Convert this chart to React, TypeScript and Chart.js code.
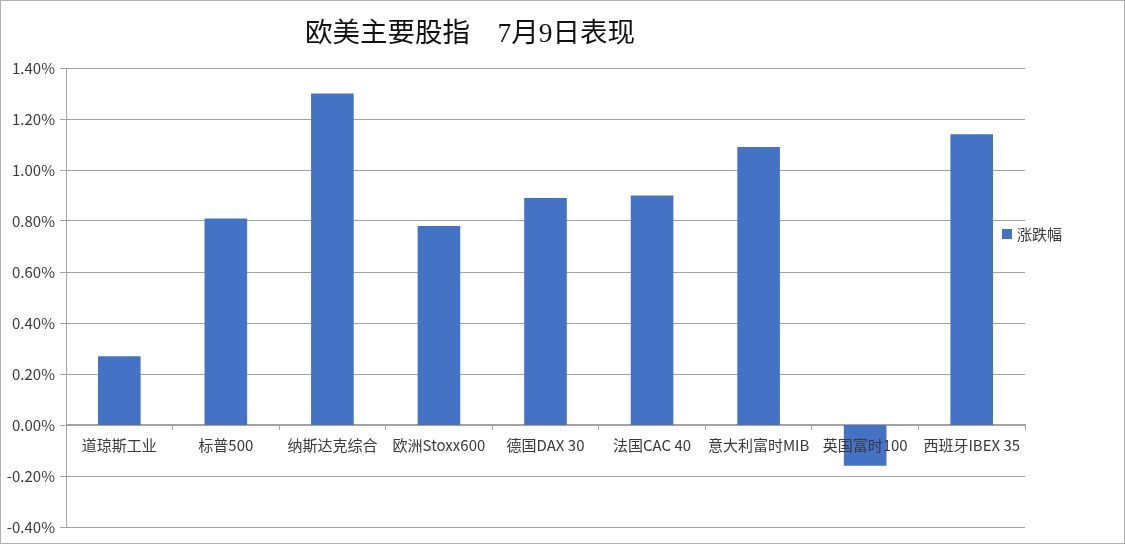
import React, { useEffect, useRef } from "react";
import { Chart, registerables } from "chart.js";

Chart.register(...registerables);

const titleText = "欧美主要股指　7月9日表现";
const seriesLabel = "涨跌幅";
const categories = [
  "道琼斯工业",
  "标普500",
  "纳斯达克综合",
  "欧洲Stoxx600",
  "德国DAX 30",
  "法国CAC 40",
  "意大利富时MIB",
  "英国富时100",
  "西班牙IBEX 35",
];
const changePct = [0.27, 0.81, 1.3, 0.78, 0.89, 0.9, 1.09, -0.16, 1.14];
const yMin = -0.4;
const yMax = 1.4;
const yStep = 0.2;

const BAR_COLOR = "#4472C4";
const GRID_COLOR = "#a3a3a3";
const TEXT_COLOR = "#3a3a3a";
const LABEL_FONT = "'Noto Sans CJK SC', 'Noto Sans', sans-serif";

const overlayPlugin = {
  id: "overlay",
  afterDraw(chart: any) {
    const ctx = chart.ctx;
    ctx.save();
    // title
    ctx.fillStyle = "#111";
    ctx.font = "27.5px 'Liberation Serif', 'Noto Sans CJK SC', serif";
    ctx.textAlign = "center";
    ctx.textBaseline = "middle";
    ctx.fillText(titleText, 470, 35);
    // legend
    const lx = chart.chartArea.right - 23;
    const ly = 234;
    ctx.fillStyle = BAR_COLOR;
    ctx.fillRect(lx, ly - 5, 10, 10);
    ctx.fillStyle = TEXT_COLOR;
    ctx.font = "15px " + LABEL_FONT;
    ctx.textAlign = "left";
    ctx.fillText(chart.data.datasets[0].label, lx + 15, ly);
    ctx.restore();
  },
};

export default function App() {
  const ref = useRef<HTMLCanvasElement | null>(null);
  useEffect(() => {
    document.body.style.margin = "0";
    const chart = new Chart(ref.current as HTMLCanvasElement, {
      type: "bar",
      data: {
        labels: categories,
        datasets: [
          {
            label: seriesLabel,
            data: changePct,
            backgroundColor: BAR_COLOR,
            barPercentage: 0.4,
            categoryPercentage: 1,
          },
        ],
      },
      options: {
        animation: false,
        responsive: true,
        maintainAspectRatio: false,
        layout: { padding: { left: 0, right: 100, top: 68, bottom: 18 } },
        plugins: {
          legend: { display: false },
          title: { display: false },
          tooltip: { enabled: false },
        },
        scales: {
          x: {
            position: { y: 0 } as any,
            offset: true,
            grid: {
              offset: true,
              drawOnChartArea: false,
              drawTicks: true,
              tickLength: 5,
              color: GRID_COLOR,
            },
            border: { display: true, color: GRID_COLOR },
            ticks: {
              z: 1,
              color: TEXT_COLOR,
              font: { family: LABEL_FONT, size: 15 },
              padding: 6,
              maxRotation: 0,
              autoSkip: false,
            },
          },
          y: {
            min: yMin,
            max: yMax,
            afterFit(scale: any) {
              scale.width = 66;
            },
            grid: {
              color: GRID_COLOR,
              tickLength: 6,
            },
            border: { display: true, color: GRID_COLOR },
            ticks: {
              stepSize: yStep,
              color: TEXT_COLOR,
              font: { family: LABEL_FONT, size: 15 },
              padding: 5,
              callback: (v: any) => {
                const n = Math.abs(Number(v)) < 1e-9 ? 0 : Number(v);
                return n.toFixed(2) + "%";
              },
            },
          },
        },
      },
      plugins: [overlayPlugin],
    });
    return () => chart.destroy();
  }, []);

  return (
    <div
      style={{
        position: "fixed",
        left: 0,
        top: 0,
        width: 1125,
        height: 545,
        background: "#fff",
      }}
    >
      <canvas ref={ref} />
      <div
        style={{
          position: "absolute",
          left: 0,
          top: 0,
          width: 1125,
          height: 544,
          boxSizing: "border-box",
          border: "1.5px solid #b0b0b0",
          pointerEvents: "none",
        }}
      />
    </div>
  );
}
